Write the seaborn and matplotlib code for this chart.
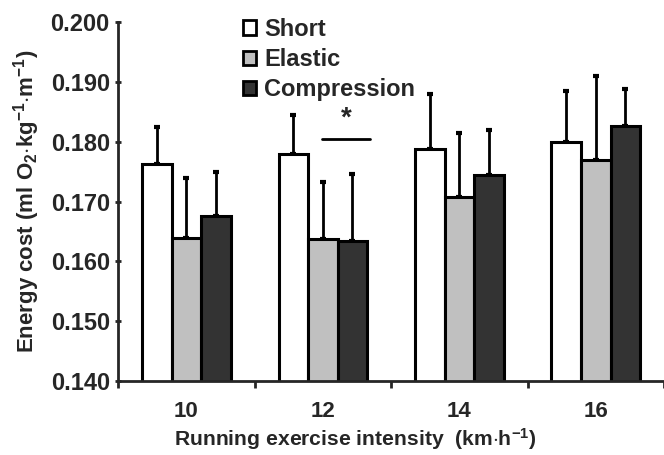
import numpy as np
import pandas as pd
import matplotlib
matplotlib.use("Agg")
import matplotlib.pyplot as plt
import seaborn as sns
from matplotlib.patches import Patch

speeds = ["10", "12", "14", "16"]
conditions = ["Short", "Elastic", "Compression"]
short_mean = [0.1762, 0.1780, 0.1787, 0.1799]
short_sd = [0.0062, 0.0064, 0.0092, 0.0085]
elastic_mean = [0.1640, 0.1638, 0.1707, 0.1770]
elastic_sd = [0.0100, 0.0094, 0.0107, 0.0140]
compr_mean = [0.1676, 0.1635, 0.1744, 0.1826]
compr_sd = [0.0073, 0.0111, 0.0075, 0.0062]
colors = ["#ffffff", "#c0c0c0", "#333333"]

df = pd.DataFrame({
    "speed": speeds * 3,
    "cond": sum([[c] * 4 for c in conditions], []),
    "mean": short_mean + elastic_mean + compr_mean,
    "sd": short_sd + elastic_sd + compr_sd,
})

sns.set_style("ticks")
plt.rcParams["font.family"] = ["Liberation Sans", "DejaVu Sans"]
plt.rcParams["font.weight"] = "bold"
plt.rcParams["mathtext.fontset"] = "custom"
plt.rcParams["mathtext.bf"] = "Liberation Sans:bold"
plt.rcParams["mathtext.rm"] = "Liberation Sans:bold"
plt.rcParams["mathtext.default"] = "bf"

fig = plt.figure(figsize=(6.64, 4.55), dpi=100)
ax = fig.add_axes([0.178, 0.162, 0.822, 0.790])

sns.barplot(data=df, x="speed", y="mean", hue="cond", palette=colors,
            errorbar=None, width=0.65, edgecolor="black", linewidth=2.2,
            ax=ax, legend=False, zorder=2)

# one-sided error bars (upwards only)
for cont, cond in zip(ax.containers, conditions):
    sub = df[df["cond"] == cond]
    xs = [b.get_x() + b.get_width() / 2 for b in cont]
    ax.errorbar(xs, sub["mean"], yerr=[np.zeros(len(sub)), sub["sd"]],
                fmt="none", ecolor="black", elinewidth=2, capsize=2.5,
                capthick=3, zorder=1)

ax.set_ylim(0.140, 0.200)
ax.set_xlim(-0.5, 3.42)
ax.set_yticks(np.arange(0.140, 0.2001, 0.010))
ax.set_yticklabels([f"{v:.3f}" for v in np.arange(0.140, 0.2001, 0.010)])
ax.set_xticks([-0.5, 0.5, 1.5, 2.5, 3.5], minor=True)
ax.tick_params(axis="x", which="major", length=0, pad=14, labelsize=16)
ax.tick_params(axis="x", which="minor", length=5, width=2, direction="out")
ax.tick_params(axis="y", length=5, width=2, direction="inout", labelsize=17)
for s in ["top", "right"]:
    ax.spines[s].set_visible(False)
for s in ["left", "bottom"]:
    ax.spines[s].set_linewidth(2)

ax.set_xlabel("Running exercise intensity  (km$\\cdot$h$^{-1}$)",
              fontsize=15.2, fontweight="bold")
ax.xaxis.set_label_coords(0.435, -0.125)
ax.set_ylabel("Energy cost (ml O$_2$$\\cdot$kg$^{-1}$$\\cdot$m$^{-1}$)",
              fontsize=16, fontweight="bold", labelpad=6)

# significance marker between Elastic and Compression at 12 km/h
ax.plot([0.993, 1.345], [0.1804, 0.1804], color="black", lw=2)
ax.text(1.17, 0.1838, "*", ha="center", va="center", fontsize=20,
        fontweight="bold")

handles = [Patch(facecolor=c, edgecolor="black", linewidth=2) for c in colors]
ax.legend(handles, conditions, loc="upper left", bbox_to_anchor=(0.19, 1.07),
          frameon=False, handlelength=0.55, handleheight=0.55,
          handletextpad=0.35, labelspacing=0.3,
          prop={"weight": "bold", "size": 17})

fig.savefig("out.png", dpi=100)
